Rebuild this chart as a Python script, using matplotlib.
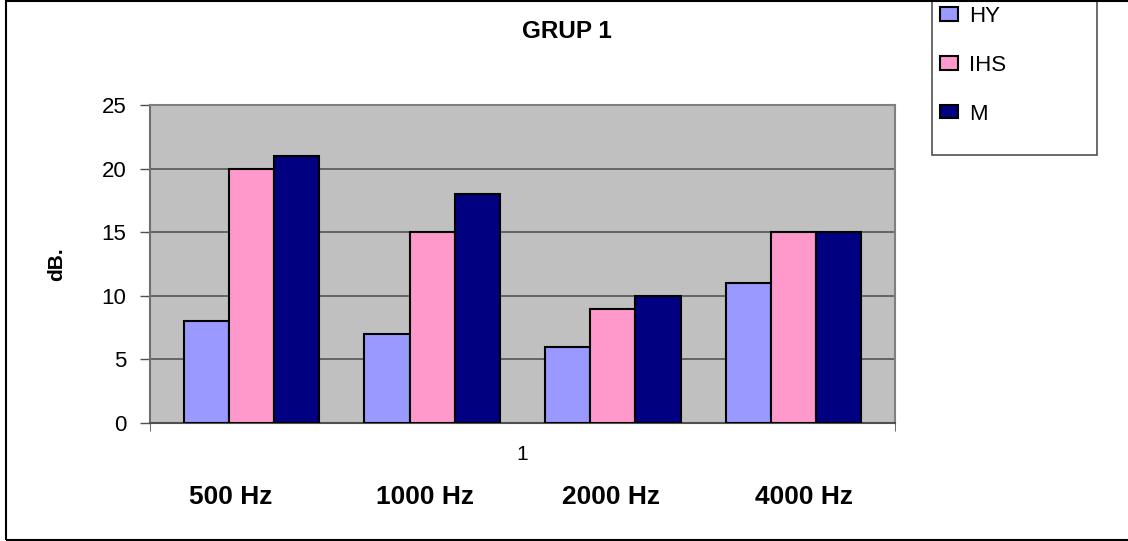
import matplotlib
matplotlib.use("Agg")
import matplotlib.pyplot as plt
from matplotlib.patches import Rectangle
import numpy as np

plt.rcParams['font.family'] = ['Liberation Sans', 'DejaVu Sans']

# Datos del grafico (umbral en dB por frecuencia)
series = ['HY', 'IHS', 'M']
frequencies = ['500 Hz', '1000 Hz', '2000 Hz', '4000 Hz']
hy_values = [8, 7, 6, 11]
ihs_values = [20, 15, 9, 15]
m_values = [21, 18, 10, 15]
y_ticks = [0, 5, 10, 15, 20, 25]

colors = ['#9999FF', '#FF99CC', '#000080']

W, H = 1128, 541
fig = plt.figure(figsize=(W / 100, H / 100), dpi=100)

# Area de trazado en pixeles de la figura
left, right, top, bottom = 150, 895, 105, 423
ax = fig.add_axes([left / W, 1 - bottom / H, (right - left) / W, (bottom - top) / H])
ax.set_facecolor('#C0C0C0')

x = np.arange(len(frequencies))
bar_w = 0.25
for i, vals in enumerate([hy_values, ihs_values, m_values]):
    ax.bar(x + (i - 1) * bar_w, vals, width=bar_w, color=colors[i],
           edgecolor='black', linewidth=1.5, label=series[i], zorder=3)

ax.set_xlim(-0.562, 3.562)
ax.set_ylim(0, 25)
ax.set_yticks(y_ticks)
ax.yaxis.grid(True, color='#555555', linewidth=1.2, zorder=1)
ax.set_axisbelow(True)

for side in ['top', 'right']:
    ax.spines[side].set_color('#808080')
    ax.spines[side].set_linewidth(1.5)
ax.spines['left'].set_color('#707070')
ax.spines['left'].set_linewidth(1.5)
ax.spines['bottom'].set_color('#505050')
ax.spines['bottom'].set_linewidth(1.5)

ax.tick_params(axis='y', direction='out', length=7, width=1, color='#505050',
               labelsize=16, pad=10)
# categoria unica "1" en el centro, marcas solo en los extremos
ax.set_xticks([1.5])
ax.set_xticklabels(['1'])
ax.tick_params(axis='x', which='major', length=0, labelsize=15, pad=16)
ax.set_xticks([-0.562, 3.562], minor=True)
ax.tick_params(axis='x', which='minor', direction='out', length=6, color='#505050')

ax.set_ylabel('dB.', fontsize=15, fontweight='bold')
ax.yaxis.set_label_coords(-0.112, 0.5)

fig.text(567 / W, 1 - 31 / H, 'GRUP 1', ha='center', va='center',
         fontsize=17.5, fontweight='bold')

# etiquetas de frecuencia bajo el eje
label_x = [231, 425, 611, 804]
for lx, lab in zip(label_x, frequencies):
    fig.text(lx / W, 1 - 497 / H, lab, ha='center', va='center',
             fontsize=19, fontweight='bold')

# leyenda con su caja
fig.patches.append(Rectangle((932 / W, 1 - 155 / H), (1097 - 932) / W, 165 / H,
                             transform=fig.transFigure, facecolor='white',
                             edgecolor='#505050', linewidth=1.2, zorder=0))
leg = fig.legend(loc='upper left', bbox_to_anchor=(940 / W, 1 - 6 / H),
                 frameon=False, fontsize=16, handlelength=0.8, handleheight=0.55,
                 handletextpad=0.5, labelspacing=1.25, borderpad=0, borderaxespad=0)

# marco exterior
fig.patches.append(Rectangle((6 / W, 1 / H), 1.2, (539) / H,
                             transform=fig.transFigure, fill=False,
                             edgecolor='black', linewidth=1.5, zorder=10))

fig.savefig('out.png', dpi=100)
